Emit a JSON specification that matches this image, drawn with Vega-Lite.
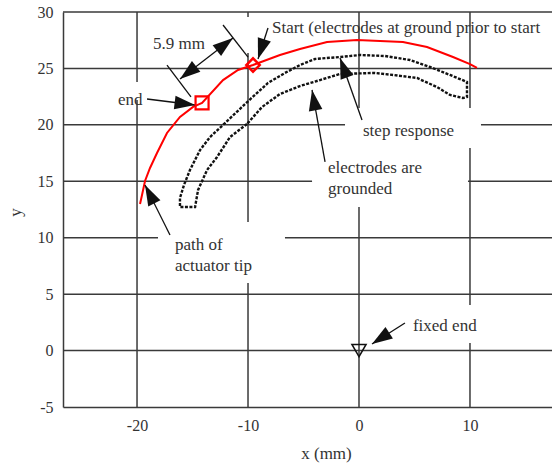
{
  "$schema": "https://vega.github.io/schema/vega-lite/v6.json",
  "width": 489,
  "height": 395,
  "autosize": {"type": "none"},
  "padding": {"left": 63, "top": 12, "right": 0, "bottom": 56},
  "background": "white",
  "config": {"view": {"stroke": null}, "font": "Liberation Serif"},
  "datasets": {
    "grid": [
      {"x": -26.67, "x2": 17.39, "y": 30, "y2": 30},
      {"x": -26.67, "x2": 17.39, "y": 25, "y2": 25},
      {"x": -26.67, "x2": -1.26, "y": 20, "y2": 20},
      {"x": 10.99, "x2": 17.39, "y": 20, "y2": 20},
      {"x": -26.67, "x2": -4.23, "y": 15, "y2": 15},
      {"x": 9.82, "x2": 17.39, "y": 15, "y2": 15},
      {"x": -26.67, "x2": -18.11, "y": 10, "y2": 10},
      {"x": -6.67, "x2": 17.39, "y": 10, "y2": 10},
      {"x": -26.67, "x2": 17.39, "y": 5, "y2": 5},
      {"x": -26.67, "x2": 17.39, "y": 0, "y2": 0},
      {"x": -20, "x2": -20, "y": -5, "y2": 22.2},
      {"x": -20, "x2": -20, "y": 23.8, "y2": 30},
      {"x": -10, "x2": -10, "y": -5, "y2": 5.99},
      {"x": -10, "x2": -10, "y": 11.39, "y2": 26.37},
      {"x": -10, "x2": -10, "y": 29.56, "y2": 30},
      {"x": 0, "x2": 0, "y": -5, "y2": 12.72},
      {"x": 0, "x2": 0, "y": 21.49, "y2": 30},
      {"x": 10, "x2": 10, "y": -5, "y2": 0.67},
      {"x": 10, "x2": 10, "y": 4.04, "y2": 17.95},
      {"x": 10, "x2": 10, "y": 21.49, "y2": 30}
    ],
    "tip": [
      {"order": 1, "x": -19.73, "y": 12.99},
      {"order": 2, "x": -19.55, "y": 13.79},
      {"order": 3, "x": -19.28, "y": 15.03},
      {"order": 4, "x": -18.83, "y": 16.18},
      {"order": 5, "x": -18.2, "y": 17.51},
      {"order": 6, "x": -17.3, "y": 19.28},
      {"order": 7, "x": -16.13, "y": 20.7},
      {"order": 8, "x": -14.95, "y": 21.59},
      {"order": 9, "x": -14.14, "y": 21.94},
      {"order": 10, "x": -12.25, "y": 23.97},
      {"order": 11, "x": -10.9, "y": 24.86},
      {"order": 12, "x": -9.55, "y": 25.3},
      {"order": 13, "x": -7.12, "y": 26.19},
      {"order": 14, "x": -5.32, "y": 26.72},
      {"order": 15, "x": -2.88, "y": 27.34},
      {"order": 16, "x": -0.18, "y": 27.52},
      {"order": 17, "x": 1.89, "y": 27.43},
      {"order": 18, "x": 3.96, "y": 27.34},
      {"order": 19, "x": 6.13, "y": 26.9},
      {"order": 20, "x": 8.47, "y": 26.01},
      {"order": 21, "x": 10.0, "y": 25.39},
      {"order": 22, "x": 10.63, "y": 25.04}
    ],
    "loop": [
      {"order": 1, "x": -10.09, "y": 20.08},
      {"order": 2, "x": -11.62, "y": 18.92},
      {"order": 3, "x": -12.79, "y": 17.15},
      {"order": 4, "x": -13.69, "y": 16.0},
      {"order": 5, "x": -14.5, "y": 14.23},
      {"order": 6, "x": -14.77, "y": 12.72},
      {"order": 7, "x": -16.13, "y": 12.72},
      {"order": 8, "x": -16.13, "y": 13.52},
      {"order": 9, "x": -15.77, "y": 14.67},
      {"order": 10, "x": -15.23, "y": 16.0},
      {"order": 11, "x": -14.32, "y": 17.77},
      {"order": 12, "x": -13.42, "y": 18.92},
      {"order": 13, "x": -12.07, "y": 20.16},
      {"order": 14, "x": -10.1, "y": 22.0},
      {"order": 15, "x": -8.2, "y": 23.71},
      {"order": 16, "x": -6.67, "y": 24.6},
      {"order": 17, "x": -5.32, "y": 25.3},
      {"order": 18, "x": -3.96, "y": 25.84},
      {"order": 19, "x": -1.71, "y": 26.01},
      {"order": 20, "x": 0.09, "y": 26.19},
      {"order": 21, "x": 2.34, "y": 26.1},
      {"order": 22, "x": 4.59, "y": 25.75},
      {"order": 23, "x": 6.4, "y": 25.13},
      {"order": 24, "x": 8.2, "y": 24.42},
      {"order": 25, "x": 9.73, "y": 23.8},
      {"order": 26, "x": 9.73, "y": 22.47},
      {"order": 27, "x": 9.37, "y": 22.38},
      {"order": 28, "x": 8.2, "y": 22.65},
      {"order": 29, "x": 7.03, "y": 23.35},
      {"order": 30, "x": 5.23, "y": 24.15},
      {"order": 31, "x": 3.06, "y": 24.42},
      {"order": 32, "x": 1.44, "y": 24.6},
      {"order": 33, "x": -1.71, "y": 24.51},
      {"order": 34, "x": -3.51, "y": 23.97},
      {"order": 35, "x": -5.32, "y": 23.44},
      {"order": 36, "x": -7.12, "y": 22.73},
      {"order": 37, "x": -8.74, "y": 21.58},
      {"order": 38, "x": -10.09, "y": 20.08}
    ],
    "leaders": [
      {"x": -16.13, "y": 24.06, "x2": -11.35, "y2": 27.7},
      {"x": -17.3, "y": 25.3, "x2": -15.14, "y2": 22.47},
      {"x": -12.25, "y": 28.85, "x2": -10.0, "y2": 26.01},
      {"x": -19.1, "y": 22.29, "x2": -14.77, "y2": 21.76},
      {"x": -8.2, "y": 28.58, "x2": -9.1, "y2": 25.84},
      {"x": 0.27, "y": 20.43, "x2": -1.71, "y2": 25.92},
      {"x": -3.06, "y": 16.71, "x2": -4.23, "y2": 23.09},
      {"x": -17.03, "y": 10.24, "x2": -19.28, "y2": 14.67},
      {"x": 4.14, "y": 2.44, "x2": 1.17, "y2": 0.58}
    ],
    "heads": [
      {"x": -16.13, "y": 24.06, "angle": 232},
      {"x": -11.35, "y": 27.7, "angle": 52},
      {"x": -14.77, "y": 21.76, "angle": 97},
      {"x": -9.1, "y": 25.84, "angle": 198},
      {"x": -1.71, "y": 25.92, "angle": 340},
      {"x": -4.23, "y": 23.09, "angle": 350},
      {"x": -19.28, "y": 14.67, "angle": 333},
      {"x": 1.17, "y": 0.58, "angle": 237}
    ],
    "markers": [
      {"kind": "end", "x": -14.14, "y": 21.94},
      {"kind": "start", "x": -9.55, "y": 25.3},
      {"kind": "fixed", "x": 0, "y": 0}
    ],
    "labels": [
      {"x": -18.56, "y": 27.16, "text": "5.9 mm"},
      {"x": -21.71, "y": 22.2, "text": "end"},
      {"x": -7.84, "y": 28.58, "text": "Start (electrodes at ground prior to start"},
      {"x": 0.36, "y": 19.46, "text": "step response"},
      {"x": -2.79, "y": 16.18, "text": "electrodes are"},
      {"x": -2.79, "y": 14.32, "text": "grounded"},
      {"x": -16.58, "y": 9.35, "text": "path of"},
      {"x": -16.58, "y": 7.49, "text": "actuator tip"},
      {"x": 4.86, "y": 2.18, "text": "fixed end"}
    ]
  },
  "layer": [
    {
      "data": {"name": "grid"},
      "mark": {"type": "rule", "color": "#3a3a3a", "strokeWidth": 1.5},
      "encoding": {
        "x": {
          "field": "x", "type": "quantitative",
          "scale": {"domain": [-26.67, 17.39], "nice": false, "zero": false},
          "axis": {
            "values": [-20, -10, 0, 10], "title": "x (mm)", "grid": false, "ticks": false, "tickSize": 0,
            "labelPadding": 10, "labelExpr": "'' + datum.value", "labelFlush": false,
            "domainColor": "#3a3a3a", "domainWidth": 1.5,
            "labelFont": "Liberation Serif", "labelFontSize": 16, "labelColor": "#333",
            "titleFont": "Liberation Serif", "titleFontSize": 17, "titleFontWeight": "normal", "titleColor": "#333",
            "titleX": 263, "titleY": 46, "titleBaseline": "middle", "titleAlign": "center"
          }
        },
        "x2": {"field": "x2"},
        "y": {
          "field": "y", "type": "quantitative",
          "scale": {"domain": [-5, 30], "nice": false, "zero": false},
          "axis": {
            "values": [-5, 0, 5, 10, 15, 20, 25, 30], "title": "y", "grid": false, "ticks": false, "tickSize": 0,
            "labelPadding": 10, "labelExpr": "'' + datum.value", "labelFlush": false,
            "domainColor": "#3a3a3a", "domainWidth": 1.5,
            "labelFont": "Liberation Serif", "labelFontSize": 16, "labelColor": "#333",
            "titleFont": "Liberation Serif", "titleFontSize": 17, "titleFontWeight": "normal", "titleColor": "#333",
            "titleX": -48, "titleY": 200, "titleAngle": 270, "titleBaseline": "middle", "titleAlign": "center"
          }
        },
        "y2": {"field": "y2"}
      }
    },
    {
      "data": {"name": "tip"},
      "mark": {"type": "line", "color": "#ff0000", "strokeWidth": 2},
      "encoding": {
        "x": {"field": "x", "type": "quantitative"},
        "y": {"field": "y", "type": "quantitative"},
        "order": {"field": "order", "type": "quantitative"}
      }
    },
    {
      "data": {"name": "loop"},
      "mark": {"type": "line", "color": "#111", "strokeWidth": 2.4, "strokeDash": [3, 1.5]},
      "encoding": {
        "x": {"field": "x", "type": "quantitative"},
        "y": {"field": "y", "type": "quantitative"},
        "order": {"field": "order", "type": "quantitative"}
      }
    },
    {
      "data": {"name": "leaders"},
      "mark": {"type": "rule", "color": "#111", "strokeWidth": 1.3},
      "encoding": {
        "x": {"field": "x", "type": "quantitative"},
        "y": {"field": "y", "type": "quantitative"},
        "x2": {"field": "x2"},
        "y2": {"field": "y2"}
      }
    },
    {
      "data": {"name": "heads"},
      "mark": {"type": "point", "shape": "M0,0L0.6,1.8L-0.6,1.8Z", "filled": true, "color": "#111", "opacity": 1, "size": 520},
      "encoding": {
        "x": {"field": "x", "type": "quantitative"},
        "y": {"field": "y", "type": "quantitative"},
        "angle": {"field": "angle", "type": "quantitative", "scale": null}
      }
    },
    {
      "data": {"name": "markers"},
      "transform": [{"filter": "datum.kind === 'end'"}],
      "mark": {"type": "point", "shape": "square", "size": 169, "filled": false, "stroke": "#ff0000", "strokeWidth": 2.2, "opacity": 1},
      "encoding": {
        "x": {"field": "x", "type": "quantitative"},
        "y": {"field": "y", "type": "quantitative"}
      }
    },
    {
      "data": {"name": "markers"},
      "transform": [{"filter": "datum.kind === 'start'"}],
      "mark": {"type": "point", "shape": "diamond", "size": 180, "filled": false, "stroke": "#ff0000", "strokeWidth": 2.5, "opacity": 1},
      "encoding": {
        "x": {"field": "x", "type": "quantitative"},
        "y": {"field": "y", "type": "quantitative"}
      }
    },
    {
      "data": {"name": "markers"},
      "transform": [{"filter": "datum.kind === 'fixed'"}],
      "mark": {"type": "point", "shape": "triangle-down", "size": 200, "filled": false, "stroke": "#111", "strokeWidth": 1.5, "opacity": 1},
      "encoding": {
        "x": {"field": "x", "type": "quantitative"},
        "y": {"field": "y", "type": "quantitative"}
      }
    },
    {
      "data": {"name": "labels"},
      "mark": {"type": "text", "align": "left", "baseline": "middle", "font": "Liberation Serif", "fontSize": 17, "color": "#333"},
      "encoding": {
        "x": {"field": "x", "type": "quantitative"},
        "y": {"field": "y", "type": "quantitative"},
        "text": {"field": "text"}
      }
    }
  ]
}
